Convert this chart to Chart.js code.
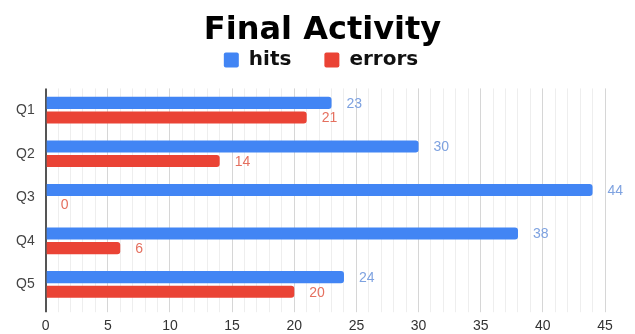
<!DOCTYPE html>
<html>
<head>
<meta charset="utf-8">
<script src="https://cdn.jsdelivr.net/npm/chart.js@4"></script>
<style>
  html, body { margin: 0; padding: 0; background: #fff; }
  #wrap { width: 635px; height: 334px; }
</style>
</head>
<body>
<div id="wrap"><canvas id="c" width="635" height="334"></canvas></div>
<script>
const categories = ['Q1', 'Q2', 'Q3', 'Q4', 'Q5'];
const hits = [23, 30, 44, 38, 24];
const errors = [21, 14, 0, 6, 20];
const xTicks = [0, 5, 10, 15, 20, 25, 30, 35, 40, 45];

const SANS = '"Liberation Sans", Arial, sans-serif';
const HEAVY = '"DejaVu Sans", sans-serif';

// Draws each bar's value just past its end
const valueLabels = {
  id: 'valueLabels',
  afterDatasetsDraw(chart) {
    const ctx = chart.ctx;
    ctx.save();
    ctx.font = '14px ' + SANS;
    ctx.textBaseline = 'middle';
    ctx.textAlign = 'left';
    chart.data.datasets.forEach((ds, i) => {
      const meta = chart.getDatasetMeta(i);
      meta.data.forEach((bar, j) => {
        ctx.fillStyle = ds.labelColor;
        ctx.fillText(String(ds.data[j]), bar.x + 15, bar.y + 1);
      });
    });
    ctx.restore();
  }
};

// Header placement: centre title and legend over the plot, keep the legend row compact
function shiftDraw(box, dx, top) {
  const draw = box.draw.bind(box);
  box.draw = function (area) {
    const l = this.left, r = this.right, t = this.top;
    this.left = l + dx; this.right = r + dx;
    if (top !== undefined) this.top = top;
    draw(area);
    this.left = l; this.right = r; this.top = t;
  };
}
const header = {
  id: 'header',
  beforeInit(chart) {
    const lg = chart.legend;
    if (lg) {
      const fit = lg.fit.bind(lg);
      lg.fit = function () { fit(); this.height = 38.5; };
      shiftDraw(lg, 16, 17);
    }
    if (chart.titleBlock) shiftDraw(chart.titleBlock, 17.5);
  }
};

new Chart(document.getElementById('c'), {
  type: 'bar',
  data: {
    labels: categories,
    datasets: [
      { label: 'hits', data: hits, backgroundColor: '#4285F4', labelColor: '#7ea2e0',
        borderRadius: { topRight: 3, bottomRight: 3 }, borderSkipped: 'start' },
      { label: 'errors', data: errors, backgroundColor: '#EA4335', labelColor: '#e5705f',
        borderRadius: { topRight: 3, bottomRight: 3 }, borderSkipped: 'start' }
    ]
  },
  options: {
    indexAxis: 'y',
    responsive: false,
    animation: false,
    devicePixelRatio: 1,
    layout: { padding: { left: 5, right: 30, top: 0, bottom: -7 } },
    datasets: { bar: { categoryPercentage: 0.67, barPercentage: 0.83 } },
    plugins: {
      title: {
        display: true,
        text: 'Final Activity',
        color: '#000',
        font: { family: HEAVY, size: 32, weight: 'bold' },
        padding: { top: 11.5, bottom: 0 }
      },
      legend: {
        display: true,
        labels: {
          color: '#111',
          font: { family: HEAVY, size: 20, weight: 'bold' },
          boxWidth: 15, boxHeight: 15, padding: 33, useBorderRadius: true, borderRadius: 2
        }
      },
      tooltip: { enabled: false }
    },
    scales: {
      x: {
        min: 0, max: 45,
        ticks: {
          stepSize: 1, autoSkip: false, maxRotation: 0, minRotation: 0, color: '#333', padding: 6,
          font: { family: SANS, size: 14 },
          callback: (v) => xTicks.includes(v) ? String(v) : ''
        },
        grid: {
          color: (c) => c.tick.value === 0 ? '#555' : (xTicks.includes(c.tick.value) ? '#d6d6d6' : '#eeeeee'),
          lineWidth: (c) => c.tick.value === 0 ? 2 : 1,
          tickLength: 6
        },
        border: { display: false }
      },
      y: {
        ticks: { color: '#444', padding: 11, font: { family: SANS, size: 14 } },
        grid: { display: false, drawTicks: false },
        border: { display: false }
      }
    }
  },
  plugins: [valueLabels, header]
});
</script>
</body>
</html>
